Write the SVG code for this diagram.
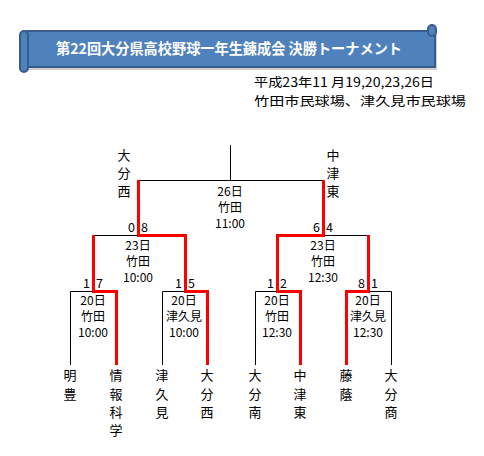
<svg xmlns="http://www.w3.org/2000/svg" width="484" height="456" viewBox="0 0 484 456">
<style>
text{font-family:"Noto Sans CJK JP","Noto Sans",sans-serif;fill:#000}
.t{font-size:12px;text-anchor:middle}
.n{font-size:13px;text-anchor:middle}
.s{font-size:12.5px}
.r{text-anchor:end}
.blk{fill:none;stroke:#000;stroke-width:1}
.red{fill:none;stroke:#FF0000;stroke-width:3;stroke-linejoin:miter;stroke-linecap:butt}
.bn{fill:#4F81BD;stroke:#385D8A;stroke-width:2}
</style>
<g id="banner">
<rect x="29" y="34" width="408" height="36" fill="#A0A0A0" opacity="0.5"/>
<rect class="bn" x="27" y="31" width="408" height="36"/>
<rect class="bn" x="428" y="25" width="8" height="11" rx="4"/>
<rect class="bn" x="20" y="31" width="8" height="41" rx="4"/>
<text x="229" y="54" font-size="14.5" font-weight="bold" text-anchor="middle" style="fill:#fff" textLength="346" lengthAdjust="spacingAndGlyphs">第22回大分県高校野球一年生錬成会 決勝トーナメント</text>
</g>
<g id="info">
<text x="254" y="87" font-size="12.5" textLength="180" lengthAdjust="spacingAndGlyphs">平成23年11 月19,20,23,26日</text>
<text x="254" y="106" font-size="12.5" textLength="212" lengthAdjust="spacingAndGlyphs">竹田市民球場、津久見市民球場</text>
</g>
<g id="connectors">
<path class="blk" d="M230.5,145V180.5M138,180.5H323M93,235.5H138M323,235.5H368M70.5,365V291.5H93M162.5,365V291.5H185M255.5,365V291.5H277M391.5,365V291.5H368"/>
<path class="red" d="M116.5,365V291.5H93.5V235"/>
<path class="red" d="M207.5,365V291.5H185.5V235.5H138.5V180"/>
<path class="red" d="M300.5,365V291.5H277.5V235.5H323.5V180"/>
<path class="red" d="M346.5,365V291.5H368.5V235"/>
</g>
<g id="m-final">
<text class="t" x="230" y="196">26日</text>
<text class="t" x="230" y="212">竹田</text>
<text class="t" x="230" y="228">11:00</text>
</g>
<g id="m-semi1">
<text class="s r" x="135" y="232">0</text><text class="s" x="141" y="232">8</text>
<text class="t" x="138" y="250">23日</text>
<text class="t" x="138" y="266">竹田</text>
<text class="t" x="138" y="282">10:00</text>
</g>
<g id="m-semi2">
<text class="s r" x="320" y="232">6</text><text class="s" x="326" y="232">4</text>
<text class="t" x="323" y="250">23日</text>
<text class="t" x="323" y="266">竹田</text>
<text class="t" x="323" y="282">12:30</text>
</g>
<g id="m-r1a">
<text class="s r" x="90" y="288">1</text><text class="s" x="96" y="288">7</text>
<text class="t" x="93" y="305">20日</text>
<text class="t" x="93" y="321">竹田</text>
<text class="t" x="93" y="337">10:00</text>
</g>
<g id="m-r1b">
<text class="s r" x="182" y="288">1</text><text class="s" x="188" y="288">5</text>
<text class="t" x="184" y="305">20日</text>
<text class="t" x="184" y="321">津久見</text>
<text class="t" x="184" y="337">10:00</text>
</g>
<g id="m-r1c">
<text class="s r" x="274" y="288">1</text><text class="s" x="280" y="288">2</text>
<text class="t" x="277" y="305">20日</text>
<text class="t" x="277" y="321">竹田</text>
<text class="t" x="277" y="337">12:30</text>
</g>
<g id="m-r1d">
<text class="s r" x="365" y="288">8</text><text class="s" x="371" y="288">1</text>
<text class="t" x="368" y="305">20日</text>
<text class="t" x="368" y="321">津久見</text>
<text class="t" x="368" y="337">12:30</text>
</g>
<g id="finalist-left"><text class="n" x="124" y="160">大</text><text class="n" x="124" y="178">分</text><text class="n" x="124" y="196">西</text></g>
<g id="finalist-right"><text class="n" x="333" y="160">中</text><text class="n" x="333" y="178">津</text><text class="n" x="333" y="196">東</text></g>
<g id="team-meiho"><text class="n" x="70" y="380">明</text><text class="n" x="70" y="399">豊</text></g>
<g id="team-johokagaku"><text class="n" x="116" y="380">情</text><text class="n" x="116" y="399">報</text><text class="n" x="116" y="417">科</text><text class="n" x="116" y="435">学</text></g>
<g id="team-tsukumi"><text class="n" x="162" y="380">津</text><text class="n" x="162" y="399">久</text><text class="n" x="162" y="417">見</text></g>
<g id="team-oitanishi"><text class="n" x="207" y="380">大</text><text class="n" x="207" y="399">分</text><text class="n" x="207" y="417">西</text></g>
<g id="team-oitaminami"><text class="n" x="255" y="380">大</text><text class="n" x="255" y="399">分</text><text class="n" x="255" y="417">南</text></g>
<g id="team-nakatsuhigashi"><text class="n" x="300" y="380">中</text><text class="n" x="300" y="399">津</text><text class="n" x="300" y="417">東</text></g>
<g id="team-touin"><text class="n" x="346" y="380">藤</text><text class="n" x="346" y="399">蔭</text></g>
<g id="team-oitasho"><text class="n" x="391" y="380">大</text><text class="n" x="391" y="399">分</text><text class="n" x="391" y="417">商</text></g>
</svg>
